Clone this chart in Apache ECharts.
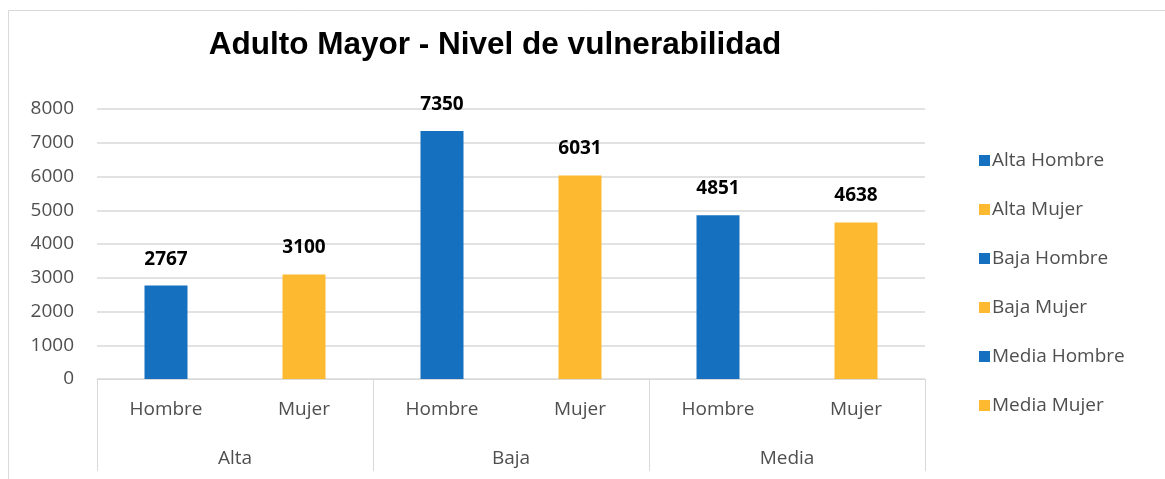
<!DOCTYPE html>
<html>
<head>
<meta charset="utf-8">
<script src="https://cdn.jsdelivr.net/npm/echarts@6/dist/echarts.min.js"></script>
<style>
html, body { margin: 0; padding: 0; background: #fff; }
#chart { width: 1165px; height: 479px; }
</style>
</head>
<body>
<div id="chart"></div>
<script>
// datos del gráfico
const niveles = ['Alta', 'Baja', 'Media'];
const sexos = ['Hombre', 'Mujer'];
const valores = [2767, 3100, 7350, 6031, 4851, 4638];
const yTicks = [0, 8000, 1000]; // min, max, intervalo
const colores = ['#1570BF', '#FDBA30'];

const etiquetas = [];
niveles.forEach(n => sexos.forEach(s => etiquetas.push(n + ' ' + s)));

const textoGris = '#4f4f4f';
const lineaGris = '#d9d9d9';

const chart = echarts.init(document.getElementById('chart'));

const series = etiquetas.map((name, i) => ({
    name: name,
    type: 'bar',
    stack: 'total',
    barWidth: 43,
    itemStyle: { color: colores[i % 2] },
    label: {
        show: true,
        position: 'top',
        distance: 17,
        color: '#000',
        fontWeight: 'bold',
        fontSize: 19,
        fontFamily: 'Open Sans'
    },
    data: valores.map((v, j) => (j === i ? v : '-'))
}));

const option = {
    animation: false,
    textStyle: { fontFamily: 'Open Sans' },
    title: {
        text: 'Adulto Mayor - Nivel de vulnerabilidad',
        left: 490,
        textAlign: 'center',
        top: 24,
        textStyle: {
            fontFamily: 'Liberation Sans',
            fontWeight: 'bold',
            fontSize: 31.5,
            color: '#000'
        }
    },
    graphic: [{
        type: 'rect',
        shape: { x: 8.5, y: 10.5, width: 1200, height: 520 },
        style: { fill: 'none', stroke: lineaGris, lineWidth: 1 },
        silent: true
    }],
    legend: {
        orient: 'vertical',
        left: 974,
        top: 146,
        icon: 'rect',
        itemWidth: 11,
        itemHeight: 11,
        itemGap: 30,
        textStyle: { fontSize: 19, color: textoGris, fontFamily: 'Open Sans', padding: [0, 0, 0, -3] },
        data: etiquetas
    },
    grid: { left: 97, right: 240, top: 109, bottom: 100 },
    xAxis: [{
        type: 'category',
        data: niveles.flatMap(() => sexos),
        axisLine: { lineStyle: { color: lineaGris } },
        axisTick: { show: false },
        axisLabel: { color: textoGris, fontSize: 19, margin: 21 }
    }, {
        type: 'category',
        position: 'bottom',
        data: niveles,
        axisLine: { show: false },
        axisTick: { show: true, length: 92, lineStyle: { color: lineaGris } },
        axisLabel: { color: textoGris, fontSize: 19, margin: 70 }
    }],
    yAxis: {
        type: 'value',
        min: yTicks[0],
        max: yTicks[1],
        interval: yTicks[2],
        axisLine: { show: false },
        axisTick: { show: false },
        axisLabel: { color: textoGris, fontSize: 19, margin: 23, formatter: v => String(v) },
        splitLine: { lineStyle: { color: lineaGris, width: 1.5 } }
    },
    series: series
};

chart.setOption(option);
</script>
</body>
</html>
